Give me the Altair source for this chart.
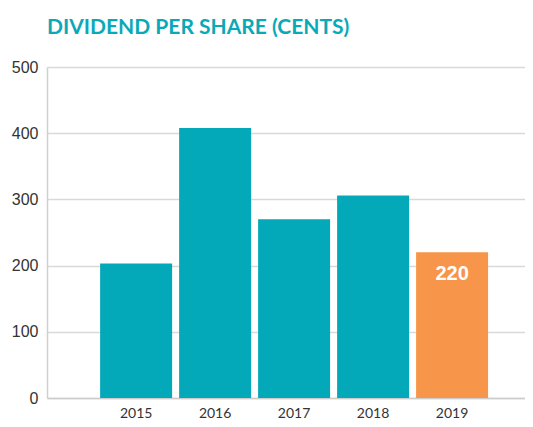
import altair as alt
import pandas as pd

years = ["2015", "2016", "2017", "2018", "2019"]
values = [203, 408, 270, 306, 220]
highlight = [False, False, False, False, True]

df = pd.DataFrame({"year": years, "value": values, "hl": highlight})

x = alt.X("year:N", sort=years, title=None,
          scale=alt.Scale(paddingInner=0.0886, paddingOuter=0.57, align=0.59),
          axis=alt.Axis(labelAngle=0, labelFont="Lato", labelFontSize=14, labelColor="#333333",
                        labelPadding=8, ticks=False, domainColor="#cccccc", domainWidth=1.5))
y = alt.Y("value:Q", title=None,
          scale=alt.Scale(domain=[0, 500], nice=False),
          axis=alt.Axis(values=[0, 100, 200, 300, 400, 500], labelFont="Liberation Sans",
                        labelFontSize=16, labelColor="#333333", labelPadding=9, ticks=False,
                        gridColor="#d9d9d9", gridWidth=1.5, domainColor="#d0d0d0", domainWidth=1.5))

bars = alt.Chart(df).mark_bar().encode(
    x=x, y=y,
    color=alt.Color("hl:N", scale=alt.Scale(domain=[False, True], range=["#03A9B9", "#F7964A"]), legend=None),
)

text = alt.Chart(df).transform_filter("datum.hl").mark_text(
    baseline="top", dy=12, color="white", font="Liberation Sans", fontSize=20, fontWeight="bold"
).encode(x=alt.X("year:N", sort=years), y="value:Q", text="value:Q")

chart = alt.layer(bars, text).properties(
    width=478, height=331,
    autosize=alt.AutoSizeParams(type="none"),
    padding={"top": 59, "left": 39, "right": 0, "bottom": 21},
    title=alt.TitleParams("DIVIDEND PER SHARE (CENTS)", anchor="start", frame="group", font="Lato",
                          fontSize=21, fontWeight="bold", color="#0AA9B8", offset=21),
).configure_view(stroke=None)

chart.save("out.html", embed_options={"renderer": "svg", "actions": False})
